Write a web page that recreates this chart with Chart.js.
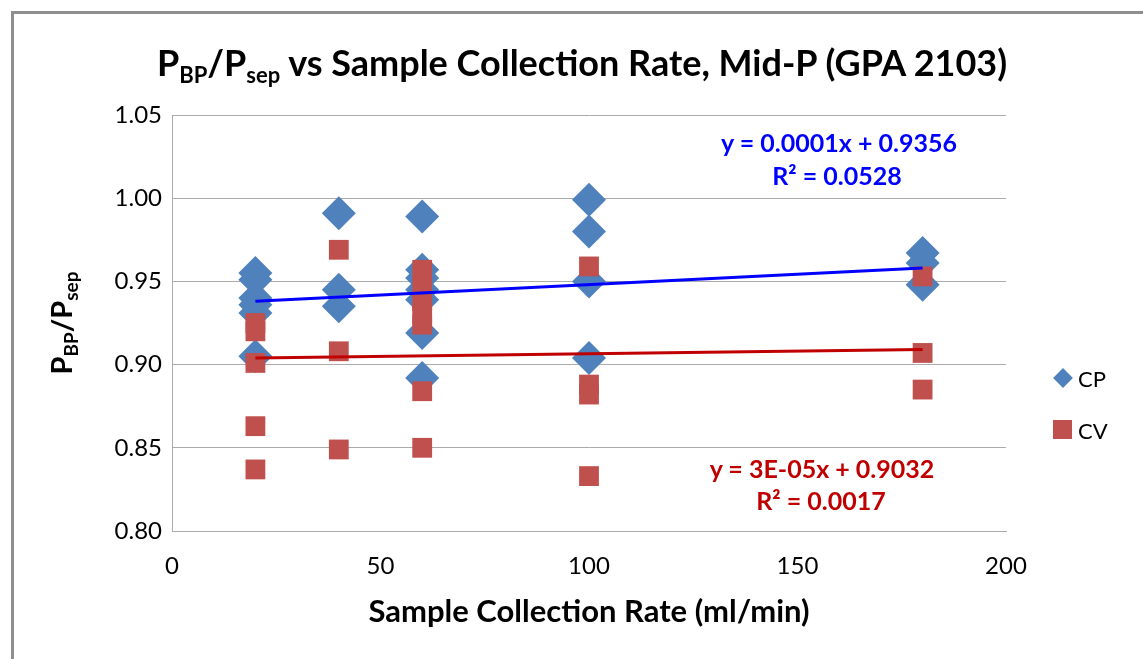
<!DOCTYPE html>
<html>
<head>
<meta charset="utf-8">
<script src="https://cdn.jsdelivr.net/npm/chart.js@4.4.1/dist/chart.umd.min.js"></script>
<style>
html,body{margin:0;padding:0;background:#fff;}
#wrap{position:relative;width:1143px;height:659px;overflow:hidden;background:#fff;font-family:Lato,"Open Sans",sans-serif;}
#frame{position:absolute;left:11px;top:11px;width:1300px;height:800px;border-left:3px solid #8f8f8f;border-top:3px solid #8f8f8f;box-sizing:border-box;}
canvas{position:absolute;left:0;top:0;}
.lbl{position:absolute;white-space:nowrap;font-weight:bold;line-height:1;}
#title{left:0;width:1164px;text-align:center;top:44px;font-size:36px;color:#000;}
#title sub{font-size:22px;vertical-align:-7px;line-height:0;}
#ytitle{left:60px;top:323px;transform:translate(-50%,-50%) rotate(-90deg);font-size:29px;color:#000;}
#ytitle sub{font-size:19px;vertical-align:-6px;line-height:0;}
.eq{transform:translate(-50%,-50%);font-size:25px;}
.leg{position:absolute;font-size:22px;color:#000;line-height:1;transform:translateY(-50%);}
.mk{position:absolute;}
</style>
</head>
<body>
<div id="wrap">
  <canvas id="c" width="1143" height="659"></canvas>
  <div id="frame"></div>
  <div id="title" class="lbl">P<sub>BP</sub>/P<sub>sep</sub> vs Sample Collection Rate, Mid-P (GPA 2103)</div>
  <div id="ytitle" class="lbl">P<sub>BP</sub>/P<sub>sep</sub></div>
  <div class="lbl eq" style="left:839px;top:142px;color:#0000FF">y = 0.0001x + 0.9356</div>
  <div class="lbl eq" style="left:837px;top:175px;color:#0000FF">R² = 0.0528</div>
  <div class="lbl eq" style="left:822px;top:468px;color:#C00000">y = 3E-05x + 0.9032</div>
  <div class="lbl eq" style="left:821px;top:500px;color:#C00000">R² = 0.0017</div>
  <div class="mk" style="left:1056px;top:371px;width:14px;height:14px;background:#4F81BD;transform:rotate(45deg);"></div>
  <div class="leg" style="left:1078px;top:379px;">CP</div>
  <div class="mk" style="left:1053px;top:420px;width:19px;height:19px;background:#C0504D;"></div>
  <div class="leg" style="left:1078px;top:431px;">CV</div>
</div>
<script>
// ---- data ----
const cpX = [20,20,20,20,20,20, 40,40,40, 60,60,60,60,60,60,60, 100,100,100,100, 180,180,180];
const cpY = [0.955,0.951,0.940,0.936,0.931,0.905, 0.991,0.945,0.935, 0.989,0.957,0.952,0.945,0.939,0.919,0.892, 0.999,0.980,0.950,0.904, 0.967,0.961,0.948];
const cvX = [20,20,20,20,20, 40,40,40, 60,60,60,60,60,60,60, 100,100,100,100, 180,180,180];
const cvY = [0.925,0.920,0.901,0.863,0.837, 0.969,0.908,0.849, 0.957,0.946,0.938,0.930,0.924,0.884,0.850, 0.959,0.888,0.882,0.833, 0.953,0.907,0.885];
const trendX = [20,180];
const cpTrendY = [0.938,0.958];
const cvTrendY = [0.904,0.909];
const xTicks = [0,50,100,150,200];
const yTicks = [0.80,0.85,0.90,0.95,1.00,1.05];

const pts = (xs, ys) => xs.map((x,i)=>({x:x,y:ys[i]}));
const gridCol = '#ABABAB';
const FONT = 'Lato, "Open Sans", sans-serif';

new Chart(document.getElementById('c'), {
  type: 'scatter',
  data: {
    datasets: [
      {label:'CP trend', data: pts(trendX,cpTrendY), showLine:true, borderColor:'#0000FF', borderWidth:3, pointRadius:0, order:0},
      {label:'CV trend', data: pts(trendX,cvTrendY), showLine:true, borderColor:'#C00000', borderWidth:3, pointRadius:0, order:0},
      {label:'CV', data: pts(cvX,cvY), pointStyle:'rect', pointRadius:14, pointHoverRadius:14, backgroundColor:'#C0504D', borderWidth:0, order:1},
      {label:'CP', data: pts(cpX,cpY), pointStyle:'rectRot', pointRadius:17, pointHoverRadius:17, backgroundColor:'#4F81BD', borderWidth:0, order:2}
    ]
  },
  options: {
    responsive:false,
    animation:false,
    devicePixelRatio:1,
    layout:{padding:{left:0,right:137,top:115,bottom:0}},
    plugins:{legend:{display:false}, tooltip:{enabled:false}, title:{display:false}},
    scales:{
      x:{
        type:'linear', min:0, max:200,
        afterBuildTicks: s => { s.ticks = xTicks.map(v=>({value:v})); },
        afterFit: s => { s.height = 128; },
        grid:{display:false, drawTicks:false},
        border:{display:true, color:gridCol, width:1},
        ticks:{color:'#000', font:{family:FONT, size:24}, padding:21, maxRotation:0},
        title:{display:true, text:'Sample Collection Rate (ml/min)', color:'#000', font:{family:FONT, size:31, weight:'bold'}, padding:{top:0,bottom:28}}
      },
      y:{
        type:'linear', min:0.80, max:1.05,
        afterBuildTicks: s => { s.ticks = yTicks.map(v=>({value:v})); },
        afterFit: s => { s.width = 172; },
        grid:{color:gridCol, lineWidth:1, drawTicks:false},
        border:{display:true, color:gridCol, width:1},
        ticks:{color:'#000', font:{family:FONT, size:24}, padding:10, callback: v => Number(v).toFixed(2)}
      }
    }
  }
});
</script>
</body>
</html>
